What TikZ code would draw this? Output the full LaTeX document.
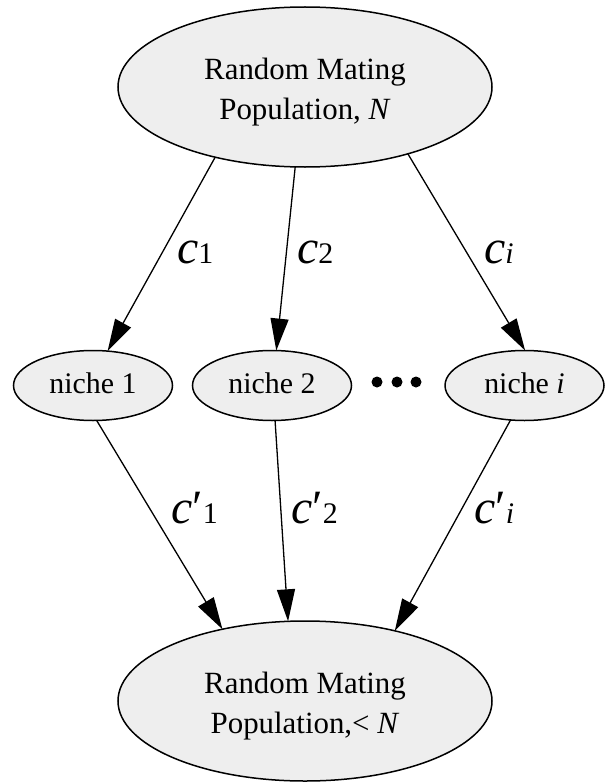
\documentclass[tikz,border=0pt]{standalone}
\usepackage{fontspec}
\setmainfont{Liberation Serif}
\usetikzlibrary{shapes.geometric,arrows.meta}
\definecolor{fillg}{RGB}{238,238,238}
\newcommand{\cbig}{{\fontsize{48}{48}\selectfont\itshape c}}
\newcommand{\cprm}{{\fontsize{48}{48}\selectfont ′}}
\begin{document}
\begin{tikzpicture}[x=1bp,y=-1bp,
  ell/.style={ellipse, draw=black, line width=1.5bp, fill=fillg, inner sep=0pt, outer sep=0pt},
  bigell/.style={ell, minimum width=374bp, minimum height=160bp},
  nicheell/.style={ell, minimum width=159bp, minimum height=70bp,
    font=\fontsize{30}{30}\selectfont, text height=20.5bp, text depth=4.5bp},
  bigtxt/.style={align=center, font=\fontsize{31}{40}\selectfont, inner sep=0pt},
  lab/.style={anchor=base west, inner sep=0pt, font=\fontsize{30}{30}\selectfont},
  arr/.style={line width=1.3bp, -{Triangle[length=32bp,width=18bp]}},
  dotc/.style={circle, fill=black, inner sep=0pt, minimum size=11bp}]
\useasboundingbox (0,0) rectangle (605,782);
% big ellipses
\node[bigell] (top) at (305,87) {};
\node[bigtxt] (toptext) at (305,91.75) {Random Mating\\Population, \textit{N}};
\node[bigell] (bot) at (305,701) {};
\node[bigtxt] (bottext) at (305,705.75) {Random Mating\\Population,< \textit{N}};
% niches
\node[nicheell] (n1) at (93,385.5) {niche 1};
\node[nicheell] (n2) at (272,385.5) {niche 2};
\node[nicheell] (ni) at (524.5,385.5) {niche \textit{i}};
% dots
\node[dotc] (d1) at (377,382) {};
\node[dotc] (d2) at (397,382) {};
\node[dotc] (d3) at (416,382) {};
% arrows
\draw[arr] (top.218) -- (n1.67);
\draw[arr] (top.263) -- (n2.83);
\draw[arr] (top.-33) -- (ni.89);
\draw[arr] (n1.-84) -- (bot.139);
\draw[arr] (n2.-85) -- (bot.102);
\draw[arr] (ni.-112) -- (bot.38);
% labels
\node[lab] (lc1) at (177,263) {\cbig 1};
\node[lab] (lc2) at (297,263) {\cbig 2};
\node[lab] (lci) at (484,263) {\cbig\textit{i}};
\node[lab] (lp1) at (171,523) {\cbig\cprm 1};
\node[lab] (lp2) at (291,523) {\cbig\cprm 2};
\node[lab] (lpi) at (474,523) {\cbig\cprm\textit{i}};
\end{tikzpicture}
\end{document}
